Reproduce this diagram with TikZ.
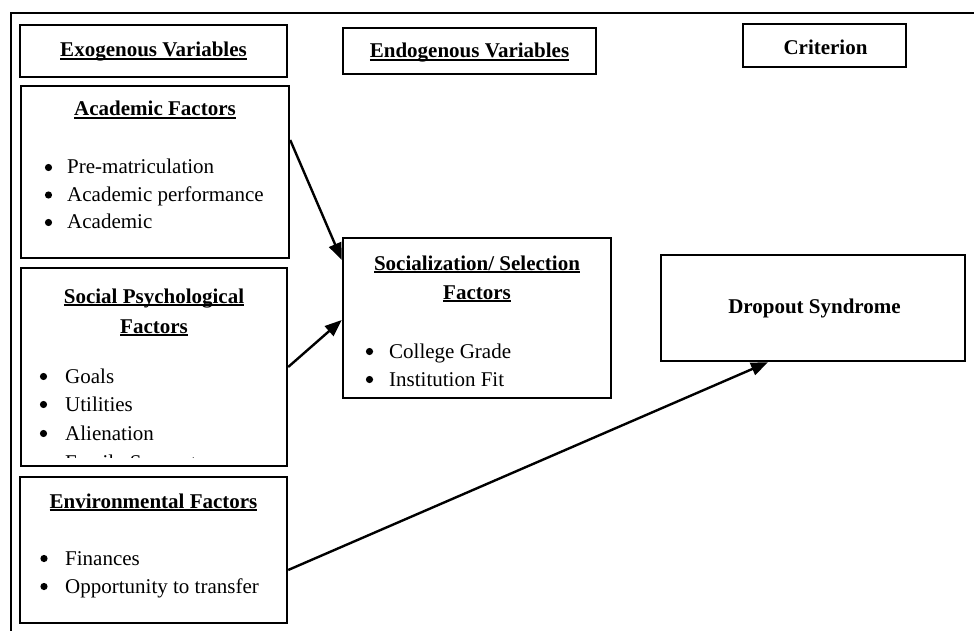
\documentclass[tikz,border=0pt]{standalone}
\usepackage{fontspec}
\setmainfont{Liberation Serif}
\usetikzlibrary{arrows.meta}
% underline drawn through descenders, word-processor style
\newcommand{\wordul}[1]{\setbox0\hbox{#1}\rlap{\rule[-2.6pt]{\wd0}{1.5pt}}\box0}
\begin{document}
\begin{tikzpicture}[x=1pt,y=-1pt,
  box/.style={draw, line width=2.4pt, rectangle, inner sep=0pt},
  txt/.style={font=\fontsize{21}{25}\selectfont, inner sep=0pt, anchor=base},
  head/.style={txt, font=\fontsize{21}{25}\selectfont\bfseries},
  item/.style={txt, anchor=base west},
  dot/.style={fill=black},
  link/.style={line width=2.4pt, -{Triangle[length=17pt,width=13pt]}}]
\useasboundingbox (0,0) rectangle (974,631);

% outer frame (open at the right and bottom)
\draw[line width=2.8pt, line join=miter] (11,631) -- (11,13) -- (974,13);

% column headers
\node[box, minimum width=267pt, minimum height=52pt] (exo) at (153.5,51) {};
\node[head] (exot) at (153.5,57) {\wordul{Exogenous Variables}};
\node[box, minimum width=253pt, minimum height=46pt] (endo) at (469.5,51) {};
\node[head] (endot) at (469.5,58) {\wordul{Endogenous Variables}};
\node[box, minimum width=163pt, minimum height=43pt] (crit) at (824.5,45.5) {};
\node[head] (critt) at (825.5,55) {Criterion};

% academic factors
\node[box, minimum width=268pt, minimum height=172pt] (acad) at (155,172) {};
\node[head] (acadt) at (155,116) {\wordul{Academic Factors}};
\node[item] (a1) at (67,174) {Pre-matriculation};
\node[item] (a2) at (67,201.5) {Academic performance};
\node[item] (a3) at (67,229) {Academic};
\foreach \y in {174,201.5,229} \fill[dot] (48.5,\y-6.5) circle (3.6pt);

% social psychological factors
\node[box, minimum width=266pt, minimum height=198pt] (sps) at (154,367) {};
\node[head] (spst1) at (154,303) {\wordul{Social Psychological}};
\node[head] (spst2) at (154,333) {\wordul{Factors}};
\node[item] (s1) at (65,383) {Goals};
\node[item] (s2) at (65,411) {Utilities};
\node[item] (s3) at (65,440) {Alienation};
\foreach \y in {383,411,440} \fill[dot] (43.5,\y-6.5) circle (3.6pt);
\begin{scope}
  \clip (22,444) rectangle (286,457.5);
  \node[item] (s4) at (65,469) {Family Support};
\end{scope}

% environmental factors
\node[box, minimum width=267pt, minimum height=146pt] (env) at (153.5,550) {};
\node[head] (envt) at (153.5,508) {\wordul{Environmental Factors}};
\node[item] (e1) at (65,565) {Finances};
\node[item] (e2) at (65,593) {Opportunity to transfer};
\foreach \y in {565,593} \fill[dot] (44,\y-6.5) circle (3.6pt);

% socialization / selection factors
\node[box, minimum width=268pt, minimum height=160pt] (soc) at (477,318) {};
\node[head] (soct1) at (477,270) {\wordul{Socialization/ Selection}};
\node[head] (soct2) at (477,299) {\wordul{Factors}};
\node[item] (c1) at (389,358) {College Grade};
\node[item] (c2) at (389,386) {Institution Fit};
\foreach \y in {358,386} \fill[dot] (369.5,\y-6.5) circle (3.6pt);

% criterion box
\node[box, minimum width=304pt, minimum height=106pt] (drop) at (813,308) {};
\node[head] (dropt) at (814.5,313) {Dropout Syndrome};

% paths
\draw[link] ([yshift=32pt]acad.east) -- ([yshift=58pt]soc.west);
\draw[link] (sps.east) -- ([yshift=-2pt]soc.west);
\draw[link] ([yshift=-20pt]env.east) -- ([xshift=-45pt]drop.south);
\end{tikzpicture}
\end{document}
